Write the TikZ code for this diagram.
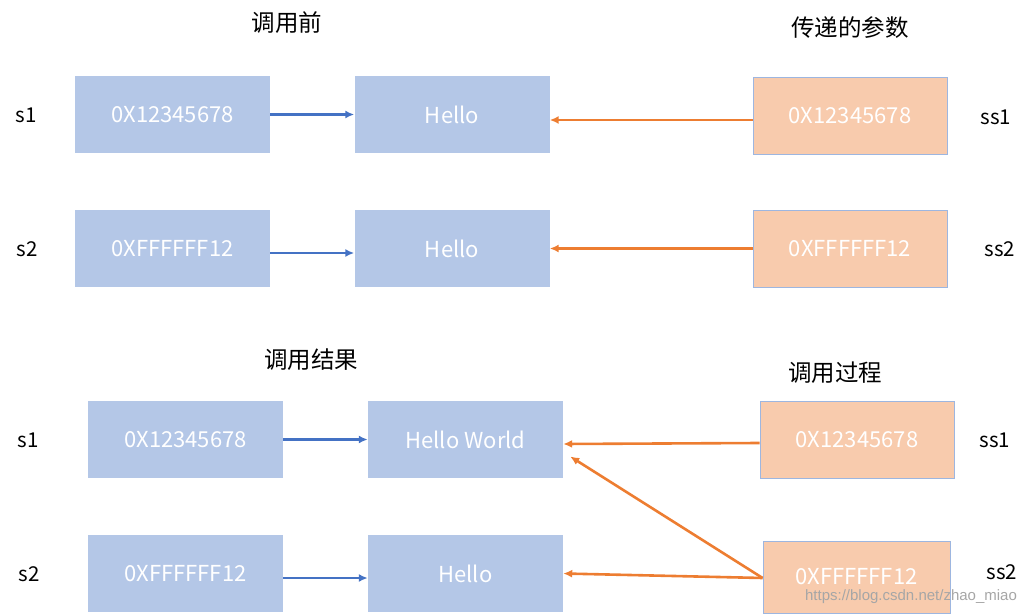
\documentclass[tikz,border=0pt]{standalone}
\usepackage{fontspec}
\setmainfont{Noto Sans CJK SC}
\newfontfamily\wmfont{Liberation Sans}
\usetikzlibrary{arrows.meta}
\definecolor{boxblue}{HTML}{B4C7E7}
\definecolor{boxorange}{HTML}{F8CBAD}
\definecolor{arrblue}{HTML}{4472C4}
\definecolor{arrorange}{HTML}{ED7D31}
\definecolor{edgeblue}{HTML}{9DB6E0}
\tikzset{
  bluebox/.style={fill=boxblue, draw=none, minimum width=195pt, minimum height=77pt, inner sep=0pt, text=white, font=\fontsize{22}{26}\selectfont},
  orangebox/.style={fill=boxorange, draw=edgeblue, line width=0.8pt, minimum width=194pt, minimum height=77pt, inner sep=0pt, text=white, font=\fontsize{22}{26}\selectfont},
  lbl/.style={font=\fontsize{20.5}{24}\selectfont, text=black, inner sep=0pt},
  ttl/.style={font=\fontsize{23.5}{27}\selectfont, text=black, inner sep=0pt},
  barrow/.style={draw=arrblue, line width=2.6pt, -{Latex[length=9pt,width=8pt]}},
  oarrow/.style={draw=arrorange, line width=2.6pt, -{Latex[length=9pt,width=8pt]}},
}
\begin{document}
\begin{tikzpicture}[x=1pt,y=-1pt]
\useasboundingbox (0,0) rectangle (1034,615);
% titles
\node[ttl] (t1) at (287,23) {调用前};
\node[ttl] (t2) at (850,28) {传递的参数};
\node[ttl] (t3) at (311,360) {调用结果};
\node[ttl] (t4) at (835,373) {调用过程};
% top section
\node[lbl] (ls1) at (26,115) {s1};
\node[lbl] (ls2) at (27,249) {s2};
\node[lbl] (lss1) at (996,117) {ss1};
\node[lbl] (lss2) at (1000,249) {ss2};
\node[bluebox] (A1) at (172.5,114.5) {0X12345678};
\node[bluebox] (H1) at (452,114.5) {Hello};
\node[orangebox] (O1) at (850,115.5) {0X12345678};
\node[bluebox] (A2) at (172.5,248.5) {0XFFFFFF12};
\node[bluebox] (H2) at (452,248.5) {Hello};
\node[orangebox] (O2) at (850,248.5) {0XFFFFFF12};
\draw[barrow] (A1.east) -- (H1.west);
\draw[barrow] ([yshift=-4.5pt]A2.east) -- ([yshift=-4.5pt]H2.west);
\draw[oarrow] ([yshift=-4.5pt]O1.west) -- ([yshift=-5.5pt]H1.east);
\draw[oarrow] (O2.west) -- (H2.east);
% bottom section
\node[lbl] (bs1) at (28,440) {s1};
\node[lbl] (bs2) at (29,574) {s2};
\node[lbl] (bss1) at (995,440) {ss1};
\node[lbl] (bss2) at (1002,572) {ss2};
\node[bluebox] (B1) at (185.5,439.5) {0X12345678};
\node[bluebox] (HW) at (465.5,439.5) {Hello World};
\node[orangebox] (P1) at (857,439.5) {0X12345678};
\node[bluebox] (B2) at (185.5,573.5) {0XFFFFFF12};
\node[bluebox] (HB) at (465.5,573.5) {Hello};
\node[orangebox, minimum width=187pt, minimum height=72pt] (P2) at (856.5,577) {0XFFFFFF12};
\draw[barrow] (B1.east) -- (HW.west);
\draw[barrow] ([yshift=-4.5pt]B2.east) -- ([yshift=-4.5pt]HB.west);
\draw[oarrow] ([yshift=-3.5pt]P1.west) -- ([yshift=-4.5pt]HW.east);
\draw[oarrow] ([yshift=-1pt]P2.west) -- (HB.east);
\draw[oarrow] ([yshift=-1pt]P2.west) -- ([xshift=7pt,yshift=-17pt]HW.east);
% watermark
\node[font=\wmfont\fontsize{15}{18}\selectfont, text=black!35, inner sep=0pt] (wm) at (911,597) {https://blog.csdn.net/zhao\_miao};
\end{tikzpicture}
\end{document}
